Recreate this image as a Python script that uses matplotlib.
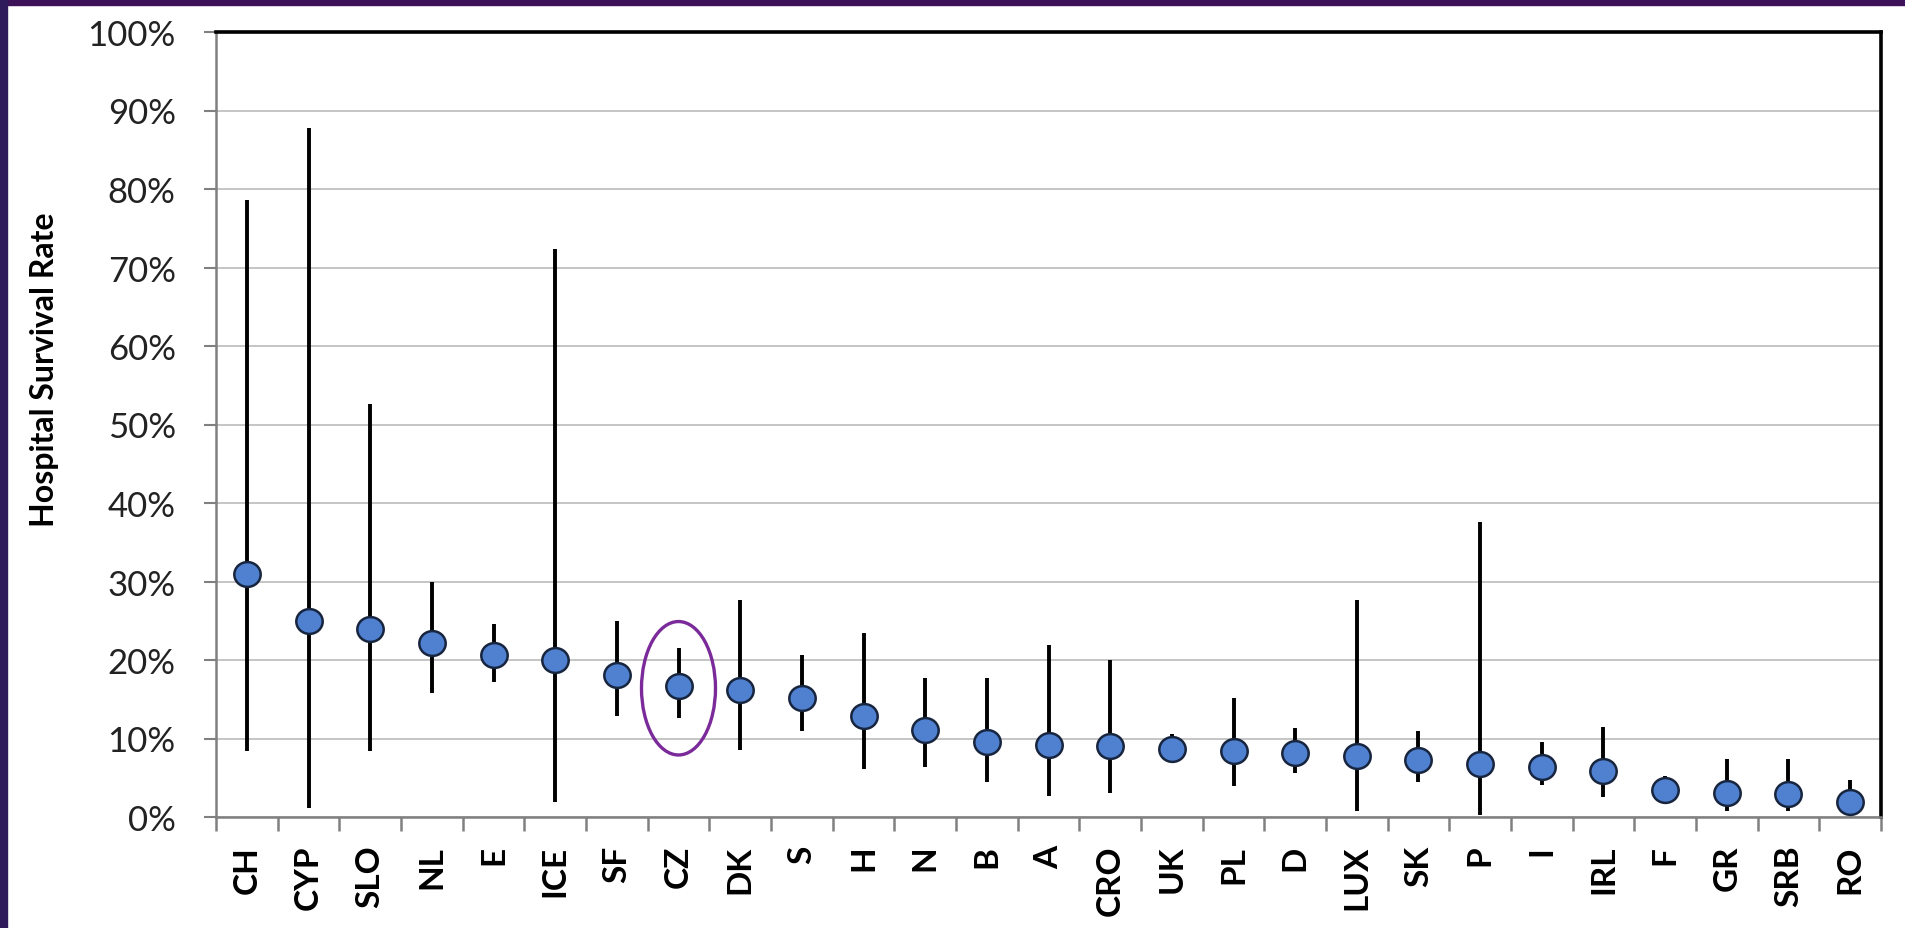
import matplotlib
matplotlib.use("Agg")
import matplotlib.pyplot as plt
from matplotlib.patches import Ellipse, Rectangle
from matplotlib.path import Path

# Hospital survival rate by country, with confidence intervals (in %)
countries = ['CH', 'CYP', 'SLO', 'NL', 'E', 'ICE', 'SF', 'CZ', 'DK', 'S', 'H', 'N', 'B', 'A',
             'CRO', 'UK', 'PL', 'D', 'LUX', 'SK', 'P', 'I', 'IRL', 'F', 'GR', 'SRB', 'RO']
rate = [30.9, 25.0, 24.0, 22.2, 20.6, 20.0, 18.1, 16.7, 16.2, 15.1, 12.9, 11.1, 9.5, 9.2,
        9.0, 8.7, 8.4, 8.1, 7.8, 7.3, 6.7, 6.4, 5.9, 3.5, 3.0, 2.9, 1.9]
ci_low = [8.4, 1.2, 8.4, 15.8, 17.2, 1.9, 12.9, 12.6, 8.5, 11.0, 6.1, 6.4, 4.4, 2.7,
          3.1, 7.8, 3.9, 5.6, 0.8, 4.5, 0.2, 4.1, 2.6, 2.1, 0.8, 0.8, 0.4]
ci_high = [78.6, 87.8, 52.6, 30.0, 24.6, 72.3, 25.0, 21.5, 27.7, 20.6, 23.4, 17.7, 17.7, 21.9,
           20.0, 10.6, 15.2, 11.3, 27.7, 10.9, 37.6, 9.5, 11.5, 5.2, 7.4, 7.4, 4.7]
highlight = 'CZ'

plt.rcParams['font.family'] = ['Lato', 'DejaVu Sans']

fig = plt.figure(figsize=(19.05, 9.29), dpi=100)
fig.patch.set_facecolor('white')
# slide background strips
fig.patches.append(Rectangle((0, 1 - 6 / 929), 1, 6 / 929, transform=fig.transFigure,
                             color='#3d1258', zorder=0))
fig.patches.append(Rectangle((0, 0), 7 / 1905, 1, transform=fig.transFigure,
                             color='#2f1a5c', zorder=0))

ax = fig.add_axes([216 / 1905, 1 - 818 / 929, (1881 - 216) / 1905, (818 - 33) / 929])

# almost round oval marker, like the original
oval = Path.unit_circle()
oval = Path(oval.vertices * [1.0, 0.94], oval.codes)

x = list(range(len(countries)))
ax.vlines(x, ci_low, ci_high, colors='black', linewidth=2.8, zorder=3)
ax.plot(x, rate, linestyle='none', marker=oval, markersize=19,
        markerfacecolor='#4f81d0', markeredgecolor='#17253f', markeredgewidth=1.8, zorder=4)

i = countries.index(highlight)
ax.add_patch(Ellipse((i, rate[i] - 0.3), width=1.2, height=17, fill=False,
                     edgecolor='#7b2a9a', linewidth=2.4, zorder=5))

ax.set_xlim(-0.5, len(countries) - 0.5)
ax.set_ylim(0, 100)
ax.set_yticks(range(0, 101, 10))
ax.set_yticklabels([f'{v}%' for v in range(0, 101, 10)], fontsize=25, color='#222222')
ax.set_xticks(x)
ax.set_xticklabels(countries, rotation=90, fontsize=24, fontweight='bold')
ax.set_xticks([v - 0.5 for v in range(len(countries) + 1)], minor=True)
ax.tick_params(axis='x', which='major', length=0, pad=20)
ax.tick_params(axis='x', which='minor', length=10, width=1.8, color='#808080', direction='out')
ax.tick_params(axis='y', length=9, width=1.5, color='#808080', pad=20)

ax.grid(axis='y', color='#c0c0c0', linewidth=1.3, zorder=0)
ax.set_axisbelow(True)

for side in ['top', 'right']:
    ax.spines[side].set_color('black')
    ax.spines[side].set_linewidth(2.6)
for side in ['left', 'bottom']:
    ax.spines[side].set_color('#808080')
    ax.spines[side].set_linewidth(1.8)

fig.text(45 / 1905, 1 - 370 / 929, 'Hospital Survival Rate', rotation=90,
         ha='center', va='center', fontsize=23, fontweight='bold')

fig.savefig('out.png', dpi=100)
